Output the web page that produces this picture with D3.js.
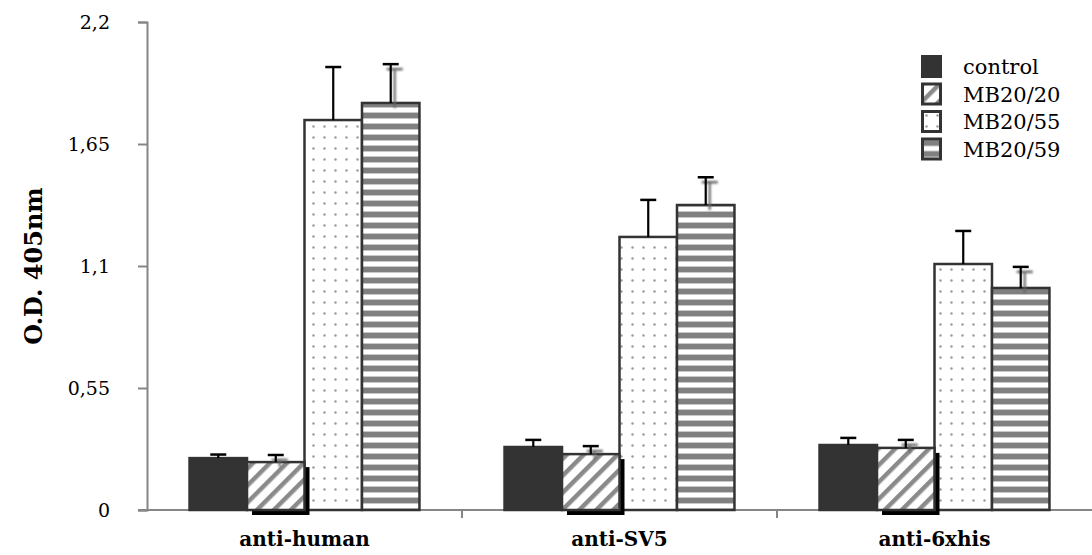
<!DOCTYPE html>
<html>
  <head>
    <script src="https://d3js.org/d3.v7.min.js"></script>
    <style>
      body { margin: 0; background: #fff; }
    </style>
  </head>
  <body>
    <script>

      const width = 1092;
      const height = 555;

      // data
      const categories = ["anti-human", "anti-SV5", "anti-6xhis"];
      const series = ["control", "MB20/20", "MB20/55", "MB20/59"];
      const control = [0.234, 0.284, 0.293];
      const mb2020 = [0.216, 0.252, 0.280];
      const mb2055 = [1.758, 1.231, 1.109];
      const mb2059 = [1.835, 1.375, 1.001];
      const controlErr = [0.016, 0.032, 0.032];
      const mb2020Err = [0.032, 0.036, 0.036];
      const mb2055Err = [0.239, 0.167, 0.149];
      const mb2059Err = [0.175, 0.125, 0.095];
      const yTicks = [0, 0.55, 1.1, 1.65, 2.2];
      const yTickLabels = ["0", "0,55", "1,1", "1,65", "2,2"];

      const values = [control, mb2020, mb2055, mb2059];
      const errors = [controlErr, mb2020Err, mb2055Err, mb2059Err];

      const margin = { top: 22, right: 0, bottom: 45, left: 147 };
      const serif = "'DejaVu Serif'";

      const svg = d3.select("body")
        .append("svg")
        .attr("width", width)
        .attr("height", height);

      const defs = svg.append("defs");

      // diagonal hatch
      const hatch = defs.append("pattern")
        .attr("id", "hatch")
        .attr("patternUnits", "userSpaceOnUse")
        .attr("width", 12).attr("height", 12)
        .attr("patternTransform", "rotate(45)");
      hatch.append("rect").attr("width", 12).attr("height", 12).attr("fill", "#fff");
      hatch.append("rect").attr("x", 0).attr("width", 4.5).attr("height", 12).attr("fill", "#8a8a8a");

      // dots
      const dots = defs.append("pattern")
        .attr("id", "dots")
        .attr("patternUnits", "userSpaceOnUse")
        .attr("width", 11).attr("height", 11);
      dots.append("rect").attr("width", 11).attr("height", 11).attr("fill", "#fff");
      dots.append("circle").attr("cx", 5.5).attr("cy", 5.5).attr("r", 1.2).attr("fill", "#999");

      // horizontal stripes
      const stripes = defs.append("pattern")
        .attr("id", "stripes")
        .attr("patternUnits", "userSpaceOnUse")
        .attr("width", 11).attr("height", 11);
      stripes.append("rect").attr("width", 11).attr("height", 11).attr("fill", "#fff");
      stripes.append("rect").attr("y", 3).attr("width", 11).attr("height", 5).attr("fill", "#808080");
      stripes.append("rect").attr("y", 2).attr("width", 11).attr("height", 1).attr("fill", "#c8c8c8");
      stripes.append("rect").attr("y", 8).attr("width", 11).attr("height", 1).attr("fill", "#c8c8c8");

      const blur = defs.append("filter").attr("id", "blur");
      blur.append("feGaussianBlur").attr("stdDeviation", 0.9);

      const fills = ["#333", "url(#hatch)", "url(#dots)", "url(#stripes)"];

      const x = d3.scaleBand()
        .domain(categories)
        .range([margin.left, width - margin.right]);

      const xSub = d3.scaleBand()
        .domain(series)
        .range([0, x.bandwidth()])
        .paddingOuter(0.74);

      const y = d3.scaleLinear()
        .domain([0, 2.2])
        .range([height - margin.bottom, margin.top]);

      const rows = [];
      series.forEach((s, si) => {
        categories.forEach((c, ci) => {
          rows.push({ s, si, c, v: values[si][ci], e: errors[si][ci] });
        });
      });

      const barX = d => x(d.c) + xSub(d.s);
      const bw = xSub.bandwidth();
      const axisColor = "#868686";

      // x axis first, the 3D shadow covers it
      const xAxis = svg.append("g")
        .attr("transform", `translate(0,${y(0)})`);
      xAxis.append("line")
        .attr("x1", margin.left - 9)
        .attr("x2", width)
        .attr("stroke", axisColor)
        .attr("stroke-width", 2);
      xAxis.selectAll("line.t")
        .data(categories.slice(1))
        .join("line")
        .attr("class", "t")
        .attr("x1", d => x(d))
        .attr("x2", d => x(d))
        .attr("y1", 0)
        .attr("y2", 8)
        .attr("stroke", axisColor)
        .attr("stroke-width", 2);
      xAxis.selectAll("text")
        .data(categories)
        .join("text")
        .attr("x", d => x(d) + x.bandwidth() / 2)
        .attr("y", 36)
        .attr("text-anchor", "middle")
        .style("font-family", serif)
        .attr("font-weight", "bold")
        .attr("font-size", 20)
        .text(d => d);

      // bars other than MB20/20
      const bars = svg.append("g");
      bars.selectAll("rect")
        .data(rows.filter(d => d.si !== 1))
        .join("rect")
        .attr("x", barX)
        .attr("y", d => y(d.v))
        .attr("width", bw)
        .attr("height", d => y(0) - y(d.v))
        .attr("fill", d => fills[d.si])
        .attr("stroke", "#333")
        .attr("stroke-width", 2.5);

      // 3D shadow of MB20/20
      const hatched = rows.filter(d => d.si === 1);
      svg.append("g").selectAll("rect")
        .data(hatched)
        .join("rect")
        .attr("x", d => barX(d) + 5)
        .attr("y", d => y(d.v) + 5)
        .attr("width", bw)
        .attr("height", d => y(0) - y(d.v))
        .attr("fill", "#000");

      svg.append("g").selectAll("rect")
        .data(hatched)
        .join("rect")
        .attr("x", barX)
        .attr("y", d => y(d.v))
        .attr("width", bw)
        .attr("height", d => y(0) - y(d.v))
        .attr("fill", fills[1])
        .attr("stroke", "#333")
        .attr("stroke-width", 2.5);

      // error bars
      const drawErr = (g, data, dx, dy, color) => {
        g.selectAll("line.v")
          .data(data)
          .join("line")
          .attr("class", "v")
          .attr("x1", d => barX(d) + bw / 2 + dx)
          .attr("x2", d => barX(d) + bw / 2 + dx)
          .attr("y1", d => y(d.v) + dy)
          .attr("y2", d => y(d.v + d.e) + dy)
          .attr("stroke", color)
          .attr("stroke-width", 2.2);
        g.selectAll("line.c")
          .data(data)
          .join("line")
          .attr("class", "c")
          .attr("x1", d => barX(d) + bw / 2 + dx - 8)
          .attr("x2", d => barX(d) + bw / 2 + dx + 8)
          .attr("y1", d => y(d.v + d.e) + dy)
          .attr("y2", d => y(d.v + d.e) + dy)
          .attr("stroke", color)
          .attr("stroke-width", 2.5);
      };

      const shadowed = rows.filter(d => d.si === 1 || d.si === 3);
      drawErr(svg.append("g").attr("filter", "url(#blur)"), shadowed, 4, 5, "#666");
      drawErr(svg.append("g"), rows, 0, 0, "#000");

      // y axis
      const yAxis = svg.append("g")
        .attr("transform", `translate(${margin.left},0)`)
        .call(d3.axisLeft(y)
          .tickValues(yTicks)
          .tickFormat((d, i) => yTickLabels[i])
          .tickSize(9)
          .tickPadding(28));
      yAxis.select(".domain").attr("stroke", axisColor).attr("stroke-width", 2);
      yAxis.selectAll(".tick line").attr("stroke", axisColor).attr("stroke-width", 2);
      yAxis.selectAll(".tick text")
        .style("font-family", serif)
        .attr("font-size", 19)
        .attr("fill", "#000");

      // y title
      svg.append("text")
        .attr("transform", `translate(42,${(y(0) + y(2.2)) / 2}) rotate(-90)`)
        .attr("text-anchor", "middle")
        .style("font-family", serif)
        .attr("font-weight", "bold")
        .attr("font-size", 24)
        .text("O.D. 405nm");

      // legend
      const legend = svg.append("g").attr("transform", "translate(921,55)");
      const item = legend.selectAll("g")
        .data(series)
        .join("g")
        .attr("transform", (d, i) => `translate(0,${i * 27.5})`);
      item.append("rect")
        .attr("x", 1.5).attr("y", 1.5)
        .attr("width", 18).attr("height", 20)
        .attr("fill", (d, i) => fills[i])
        .attr("stroke", "#333")
        .attr("stroke-width", 3);
      item.append("text")
        .attr("x", 42)
        .attr("y", 19)
        .style("font-family", serif)
        .attr("font-size", 21)
        .text(d => d);

    </script>
  </body>
</html>
